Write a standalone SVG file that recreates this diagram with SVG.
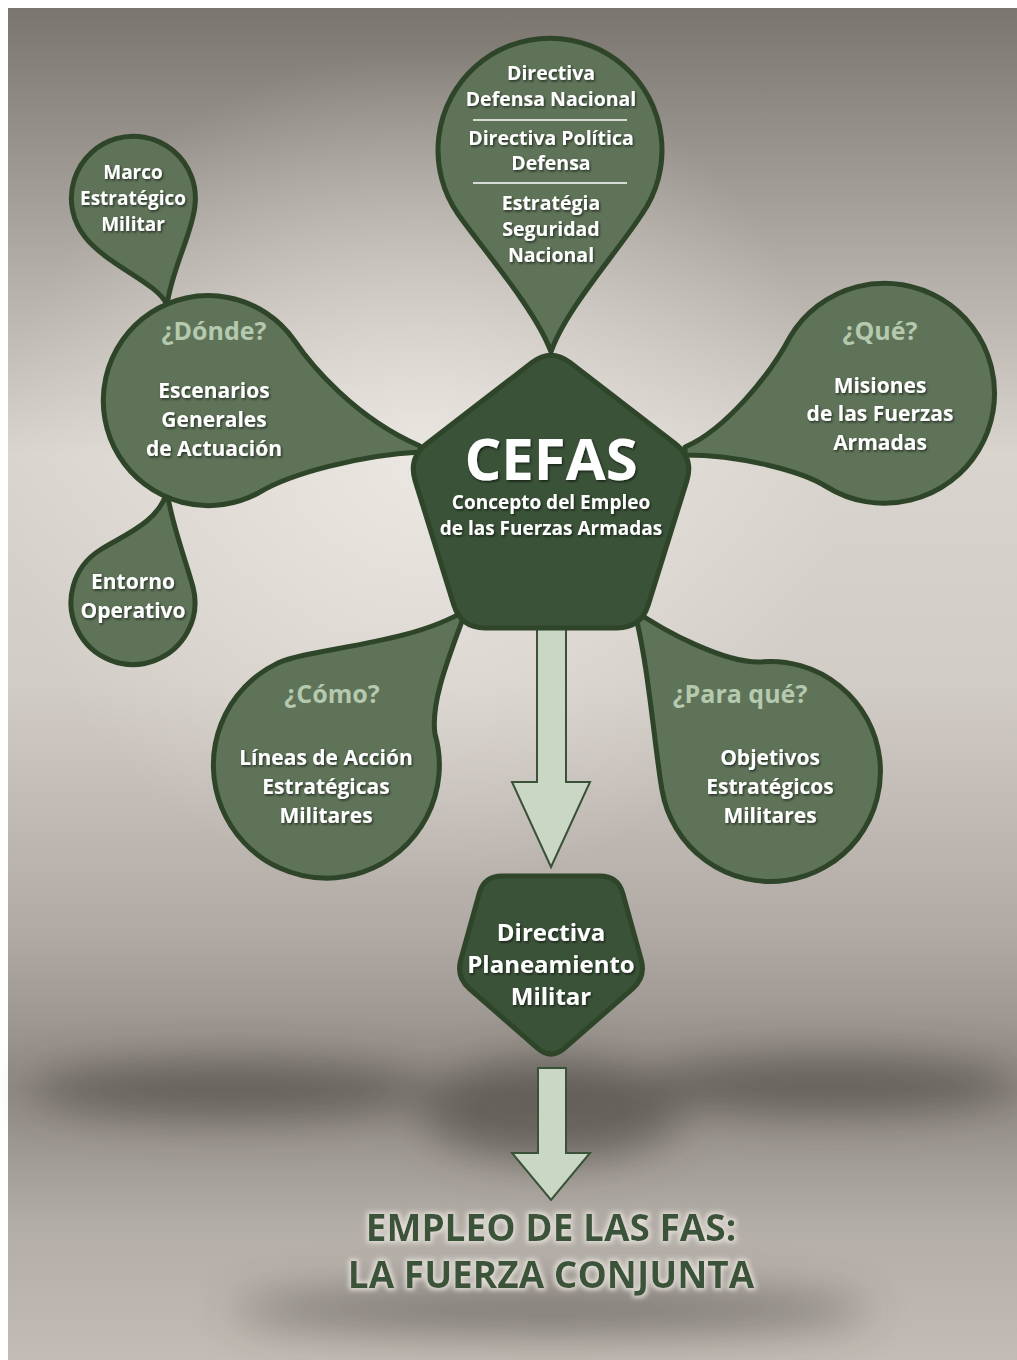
<svg xmlns="http://www.w3.org/2000/svg" width="1017" height="1360" viewBox="0 0 1017 1360">
<defs>
<linearGradient id="bg" x1="0" y1="0" x2="0" y2="1">
<stop offset="0" stop-color="#7a756f"/>
<stop offset="0.12" stop-color="#9e9892"/>
<stop offset="0.33" stop-color="#d9d4ce"/>
<stop offset="0.5" stop-color="#d2ccc6"/>
<stop offset="0.68" stop-color="#b2aba5"/>
<stop offset="0.8" stop-color="#8f8983"/>
<stop offset="0.9" stop-color="#b3ada7"/>
<stop offset="1" stop-color="#c3bcb6"/>
</linearGradient>
<radialGradient id="hl" cx="420" cy="470" r="420" gradientUnits="userSpaceOnUse">
<stop offset="0" stop-color="#f2eee9" stop-opacity="0.7"/>
<stop offset="1" stop-color="#f2eee9" stop-opacity="0"/>
</radialGradient>
<filter id="blur" x="-50%" y="-200%" width="200%" height="500%"><feGaussianBlur stdDeviation="22"/></filter>
<filter id="ts" x="-10%" y="-30%" width="120%" height="160%"><feDropShadow dx="1.2" dy="1.5" stdDeviation="0.8" flood-color="#000" flood-opacity="0.6"/></filter>
<filter id="glow" x="-10%" y="-40%" width="120%" height="180%">
<feMorphology in="SourceAlpha" operator="dilate" radius="2" result="d"/>
<feGaussianBlur in="d" stdDeviation="2.5" result="b"/>
<feFlood flood-color="#e8e4dc" flood-opacity="0.9"/>
<feComposite in2="b" operator="in" result="g"/>
<feMerge><feMergeNode in="g"/><feMergeNode in="SourceGraphic"/></feMerge>
</filter>
</defs>
<style>
.bub{fill:#5e7358;stroke:#2f4529;stroke-width:5;stroke-linejoin:round}
.pent{fill:#3a5238;stroke:#2f4529;stroke-width:5;stroke-linejoin:round}
.arr{fill:#c9d7c4;stroke:#3a5238;stroke-width:2;stroke-linejoin:miter}
.t{font-family:"Open Sans",Lato,"Liberation Sans",sans-serif;font-weight:700;fill:#ffffff;text-anchor:middle;filter:url(#ts)}
.q{font-family:"Open Sans",Lato,"Liberation Sans",sans-serif;font-weight:700;fill:#b5c9ae;text-anchor:middle;font-size:25px}
.s19{font-size:19px}.s20{font-size:19.5px}.s21{font-size:21px}.s24{font-size:24px}
.big{font-family:"Open Sans",Lato,"Liberation Sans",sans-serif;font-weight:700;fill:#3a5238;text-anchor:middle;font-size:37px;filter:url(#glow)}
</style>
<rect x="8" y="8" width="1009" height="1352" fill="url(#bg)"/>
<rect x="8" y="8" width="1009" height="1352" fill="url(#hl)"/>
<g opacity="0.55" fill="#3e3a36" filter="url(#blur)">
<ellipse cx="230" cy="1090" rx="200" ry="28"/>
<ellipse cx="830" cy="1085" rx="190" ry="28"/>
<ellipse cx="551" cy="1110" rx="130" ry="50"/>
<ellipse cx="551" cy="1310" rx="320" ry="22"/>
</g>
<g id="connectors">
<path class="arr" d="M 537 620 L 537 782 L 512 782 L 551 867 L 590 782 L 566 782 L 566 620 Z"/>
<path class="arr" d="M 538 1068 L 538 1153 L 512 1153 L 551 1200 L 590 1153 L 566 1153 L 566 1068 Z"/>
</g>
<g id="marco">
<path class="bub" d="M 167 305 C 158 283, 108 266, 85 237 A 62 62 0 1 1 195 205 C 193 232, 172 268, 167 305 Z"/>
<text class="t s19" x="133" y="179">Marco</text>
<text class="t s19" x="133" y="205">Estratégico</text>
<text class="t s19" x="133" y="231">Militar</text>
</g>
<g id="entorno">
<path class="bub" d="M 167 492 C 172 525, 185 558, 193 587 A 62 62 0 1 1 100 550 C 126 534, 158 522, 167 492 Z"/>
<text class="t s21" x="133" y="589">Entorno</text>
<text class="t s21" x="133" y="618">Operativo</text>
</g>
<g id="donde">
<path class="bub" d="M 420 452 C 360 455, 290 474, 260 492 A 105 105 0 1 1 294 340 C 311 365, 355 418, 420 446 Z"/>
<text class="q" x="214" y="340">¿Dónde?</text>
<text class="t s21" x="214" y="398">Escenarios</text>
<text class="t s21" x="214" y="427">Generales</text>
<text class="t s21" x="214" y="456">de Actuación</text>
</g>
<g id="top">
<path class="bub" d="M 551 352 C 565 310, 619 250, 642 214 A 112 112 0 1 0 458 214 C 481 247, 536 310, 551 352 Z"/>
<text class="t s20" x="551" y="80">Directiva</text>
<text class="t s20" x="551" y="106">Defensa Nacional</text>
<line x1="473" y1="120" x2="627" y2="120" stroke="#ffffff" stroke-width="1.5"/>
<text class="t s20" x="551" y="145">Directiva Política</text>
<text class="t s20" x="551" y="170">Defensa</text>
<line x1="473" y1="183" x2="627" y2="183" stroke="#ffffff" stroke-width="1.5"/>
<text class="t s20" x="551" y="210">Estratégia</text>
<text class="t s20" x="551" y="236">Seguridad</text>
<text class="t s20" x="551" y="262">Nacional</text>
</g>
<g id="que">
<path class="bub" d="M 685 447 C 725 430, 770 375, 790 337 A 110 110 0 1 1 827 487 C 802 471, 740 455, 685 455 Z"/>
<text class="q" x="880" y="340">¿Qué?</text>
<text class="t s21" x="880" y="393">Misiones</text>
<text class="t s21" x="880" y="421">de las Fuerzas</text>
<text class="t s21" x="880" y="450">Armadas</text>
</g>
<g id="como">
<path class="bub" d="M 466 610 C 452 650, 430 700, 435 734 A 113 113 0 1 1 278 663 C 310 648, 410 645, 466 610 Z"/>
<text class="q" x="332" y="703">¿Cómo?</text>
<text class="t s21" x="326" y="765">Líneas de Acción</text>
<text class="t s21" x="326" y="794">Estratégicas</text>
<text class="t s21" x="326" y="823">Militares</text>
</g>
<g id="paraque">
<path class="bub" d="M 634 610 C 665 632, 725 663, 760 662 A 110 110 0 1 1 662 790 C 655 751, 648 660, 634 610 Z"/>
<text class="q" x="740" y="703">¿Para qué?</text>
<text class="t s21" x="770" y="765">Objetivos</text>
<text class="t s21" x="770" y="794">Estratégicos</text>
<text class="t s21" x="770" y="823">Militares</text>
</g>
<g id="cefas">
<path class="pent" d="M 570 362.6 L 675 443.4 Q 694 458 686.8 480.9 L 648.2 605.1 Q 641 628 617 628 L 485 628 Q 461 628 453.8 605.1 L 415.2 480.9 Q 408 458 427 443.4 L 532 362.6 Q 551 348 570 362.6 Z"/>
<text class="t" x="551" y="480" font-size="58">CEFAS</text>
<text class="t" x="551" y="509" font-size="19">Concepto del Empleo</text>
<text class="t" x="551" y="535" font-size="19">de las Fuerzas Armadas</text>
</g>
<g id="dpm">
<path class="pent" d="M 502 876 L 600 876 Q 618 876 622.8 893.4 L 641.2 959.6 Q 646 977 632.4 988.8 L 564.6 1048.2 Q 551 1060 537.4 1048.2 L 469.6 988.8 Q 456 977 460.8 959.6 L 479.2 893.4 Q 484 876 502 876 Z"/>
<text class="t s24" x="551" y="941">Directiva</text>
<text class="t s24" x="551" y="973">Planeamiento</text>
<text class="t s24" x="551" y="1005">Militar</text>
</g>
<g id="empleo">
<text class="big" x="551" y="1241">EMPLEO DE LAS FAS:</text>
<text class="big" x="551" y="1288">LA FUERZA CONJUNTA</text>
</g>
</svg>
